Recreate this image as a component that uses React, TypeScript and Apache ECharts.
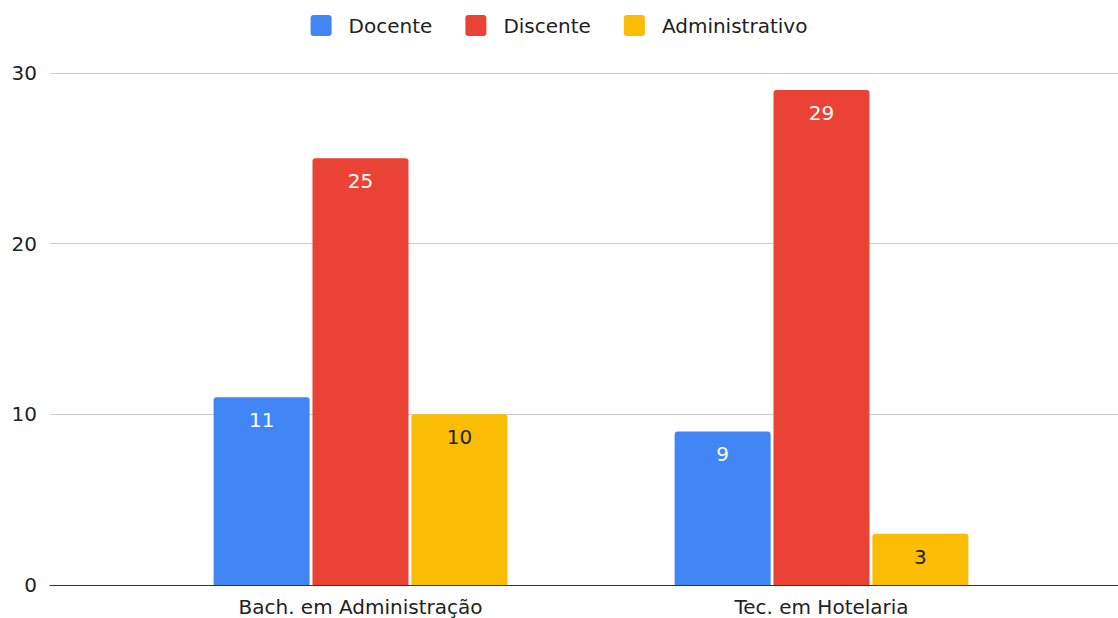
import React, { useEffect, useRef } from "react";
import * as echarts from "echarts";

const categories = ["Bach. em Administração", "Tec. em Hotelaria"];
const seriesNames = ["Docente", "Discente", "Administrativo"];
const docente = [11, 9];
const discente = [25, 29];
const administrativo = [10, 3];
const yMin = 0;
const yMax = 30;
const yInterval = 10;

const colors = ["#4285F4", "#EA4335", "#FBBC04"];
const labelColors = ["#ffffff", "#ffffff", "#222222"];
const FONT = "DejaVu Sans";

export default function App() {
  const ref = useRef<HTMLDivElement>(null);

  useEffect(() => {
    if (!ref.current) return;
    const chart = echarts.init(ref.current, undefined, { renderer: "svg" });
    const values = [docente, discente, administrativo];
    const option: any = {
      animation: false,
      backgroundColor: "#ffffff",
      textStyle: { fontFamily: FONT },
      legend: {
        top: 10,
        left: "center",
        icon: "path://M3,0H18Q21,0 21,3V18Q21,21 18,21H3Q0,21 0,18V3Q0,0 3,0Z",
        itemWidth: 21,
        itemHeight: 21,
        itemGap: 33,
        data: seriesNames,
        textStyle: {
          fontFamily: FONT,
          fontSize: 20,
          color: "#222222",
          padding: [0, 0, 0, 12],
        },
      },
      grid: [
        { left: 50, right: 0, top: 73, bottom: 33 },
        { left: 130, right: 66, top: 73, bottom: 33 },
      ],
      xAxis: [
        {
          gridIndex: 0,
          type: "value",
          min: 0,
          max: 1,
          axisLine: { show: true, lineStyle: { color: "#333333", width: 1 } },
          axisTick: { show: false },
          axisLabel: { show: false },
          splitLine: { show: false },
        },
        {
          gridIndex: 1,
          type: "category",
          data: categories,
          axisLine: { show: false },
          axisTick: { show: false },
          axisLabel: {
            fontFamily: FONT,
            fontSize: 20,
            color: "#222222",
            margin: 12,
          },
        },
      ],
      yAxis: [
        {
          gridIndex: 0,
          type: "value",
          min: yMin,
          max: yMax,
          interval: yInterval,
          axisLine: { show: false },
          axisTick: { show: false },
          axisLabel: {
            fontFamily: FONT,
            fontSize: 20,
            color: "#222222",
            margin: 13,
          },
          splitLine: { show: true, lineStyle: { color: "#cccccc", width: 1 } },
        },
        {
          gridIndex: 1,
          type: "value",
          min: yMin,
          max: yMax,
          interval: yInterval,
          show: false,
          splitLine: { show: false },
        },
      ],
      series: seriesNames.map((name, i) => ({
        name,
        type: "bar",
        xAxisIndex: 1,
        yAxisIndex: 1,
        data: values[i],
        barWidth: 96,
        barGap: "3%",
        itemStyle: { color: colors[i], borderRadius: [3, 3, 0, 0] },
        label: {
          show: true,
          position: "insideTop",
          distance: 13,
          fontFamily: FONT,
          fontSize: 20,
          color: labelColors[i],
        },
      })),
    };
    chart.setOption(option);
    return () => chart.dispose();
  }, []);

  return (
    <div
      ref={ref}
      style={{ position: "absolute", left: 0, top: 0, width: 1118, height: 618 }}
    />
  );
}
